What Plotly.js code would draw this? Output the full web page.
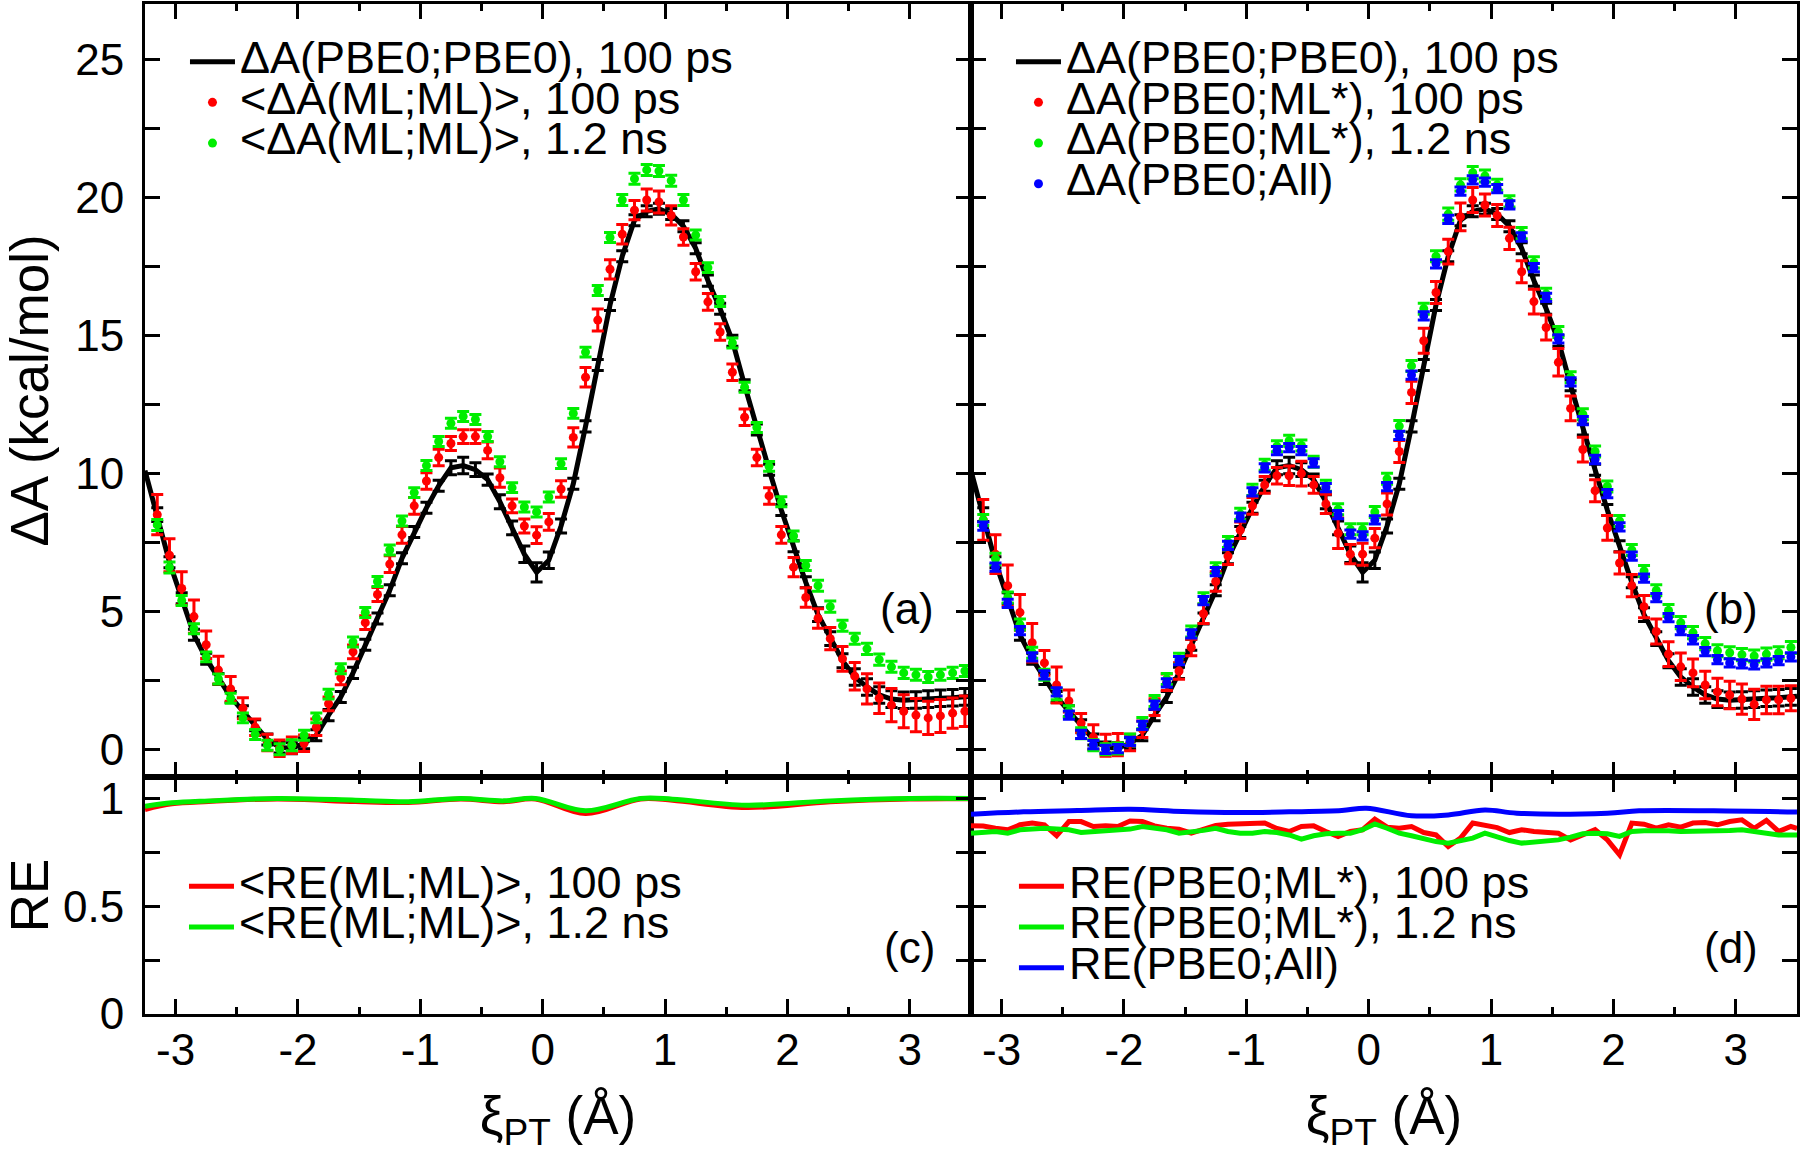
<!DOCTYPE html>
<html>
<head>
<meta charset="utf-8">
<script src="https://cdn.plot.ly/plotly-3.0.1.min.js"></script>
<style>body{margin:0;background:#fff}</style>
</head>
<body>
<div id="myDiv" style="width:1800px;height:1153px"></div>
<script>
// reaction coordinate grid of the free energy points
var xi = [-3.15, -3.05, -2.95, -2.85, -2.75, -2.65, -2.55, -2.45, -2.35, -2.25,
  -2.15, -2.05, -1.95, -1.85, -1.75, -1.65, -1.55, -1.45, -1.35, -1.25,
  -1.15, -1.05, -0.95, -0.85, -0.75, -0.65, -0.55, -0.45, -0.35, -0.25,
  -0.15, -0.05, 0.05, 0.15, 0.25, 0.35, 0.45, 0.55, 0.65, 0.75,
  0.85, 0.95, 1.05, 1.15, 1.25, 1.35, 1.45, 1.55, 1.65, 1.75,
  1.85, 1.95, 2.05, 2.15, 2.25, 2.35, 2.45, 2.55, 2.65, 2.75,
  2.85, 2.95, 3.05, 3.15, 3.25, 3.35, 3.45];

// dA(PBE0;PBE0), 100 ps  (line runs to both frame edges)
var pbeX = [-3.25].concat(xi, [3.5]);
var pbeA = [10.1,
  8.5, 6.78, 5.47, 4.15, 3.28, 2.55, 1.9, 1.38, 0.87, 0.36,
  0.07, 0.04, 0.22, 0.51, 1.24, 1.9, 2.77, 3.79, 4.74, 5.76,
  6.92, 7.87, 8.75, 9.55, 10.2, 10.28, 10.13, 9.77, 8.97, 8.02,
  7.07, 6.41, 6.85, 8.09, 9.62, 11.7, 13.92, 16.1, 17.86, 19.17,
  19.49, 19.58, 19.39, 18.95, 18.15, 16.98, 15.96, 14.8, 13.19, 11.59,
  10.13, 8.67, 7.36, 6.05, 4.88, 4.01, 3.21, 2.62, 2.26, 1.97,
  1.82, 1.78, 1.79, 1.82, 1.85, 1.87, 1.9,
  1.92];
var pbeErr = [NaN,
  0.25, 0.2, 0.2, 0.2, 0.2, 0.2, 0.2, 0.2, 0.2, 0.2,
  0.2, 0.2, 0.2, 0.2, 0.2, 0.2, 0.2, 0.2, 0.2, 0.2,
  0.2, 0.2, 0.2, 0.2, 0.25, 0.3, 0.25, 0.2, 0.25, 0.25,
  0.3, 0.35, 0.3, 0.25, 0.2, 0.2, 0.2, 0.2, 0.2, 0.2,
  0.2, 0.2, 0.2, 0.2, 0.2, 0.2, 0.2, 0.2, 0.2, 0.2,
  0.2, 0.2, 0.2, 0.2, 0.25, 0.25, 0.25, 0.3, 0.3, 0.3,
  0.3, 0.3, 0.3, 0.3, 0.3, 0.3, 0.3,
  NaN];

// panel (a): <dA(ML;ML)>
var mlA100 = [8.5, 7.03, 5.83, 4.81, 3.79, 2.87, 2.19, 1.49, 0.8, 0.25,
  0.04, 0.15, 0.22, 0.8, 1.65, 2.59, 3.53, 4.59, 5.61, 6.71,
  7.77, 8.82, 9.72, 10.57, 11.08, 11.33, 11.33, 10.83, 9.84, 8.82,
  8.09, 7.76, 8.24, 9.43, 11.3, 13.48, 15.55, 17.39, 18.66, 19.53,
  19.9, 19.83, 19.34, 18.56, 17.3, 16.21, 15.12, 13.66, 12.03, 10.57,
  9.18, 7.77, 6.6, 5.5, 4.74, 4.01, 3.28, 2.65, 2.19, 1.85,
  1.6, 1.38, 1.24, 1.14, 1.21, 1.31, 1.38];
var mlA100Err = [0.73, 0.6, 0.6, 0.6, 0.5, 0.5, 0.45, 0.38, 0.3, 0.3,
  0.3, 0.3, 0.3, 0.3, 0.25, 0.25, 0.25, 0.25, 0.25, 0.3,
  0.3, 0.3, 0.3, 0.3, 0.25, 0.25, 0.25, 0.3, 0.35, 0.25,
  0.25, 0.3, 0.3, 0.3, 0.35, 0.35, 0.4, 0.35, 0.35, 0.35,
  0.4, 0.4, 0.35, 0.3, 0.3, 0.3, 0.3, 0.3, 0.3, 0.3,
  0.3, 0.3, 0.35, 0.35, 0.35, 0.4, 0.45, 0.5, 0.55, 0.55,
  0.6, 0.6, 0.6, 0.6, 0.6, 0.55, 0.55];
var mlA12 = [8.13, 6.59, 5.39, 4.37, 3.35, 2.55, 1.85, 1.14, 0.54, 0.15,
  0.0, 0.15, 0.51, 1.14, 2.0, 2.92, 3.89, 4.96, 6.08, 7.22,
  8.27, 9.3, 10.28, 11.15, 11.81, 12.06, 11.95, 11.33, 10.42, 9.48,
  8.78, 8.6, 9.14, 10.35, 12.17, 14.39, 16.62, 18.54, 19.9, 20.67,
  20.99, 20.95, 20.6, 19.9, 18.63, 17.45, 16.22, 14.72, 13.12, 11.66,
  10.25, 8.97, 7.73, 6.66, 5.93, 5.17, 4.48, 4.01, 3.64, 3.25,
  2.99, 2.77, 2.7, 2.62, 2.7, 2.77, 2.84];
var mlA12Err = [0.2, 0.2, 0.18, 0.18, 0.18, 0.18, 0.18, 0.18, 0.18, 0.18,
  0.2, 0.2, 0.18, 0.18, 0.18, 0.18, 0.18, 0.18, 0.18, 0.18,
  0.18, 0.18, 0.18, 0.18, 0.18, 0.18, 0.18, 0.18, 0.18, 0.18,
  0.18, 0.18, 0.18, 0.18, 0.18, 0.18, 0.18, 0.18, 0.2, 0.2,
  0.2, 0.2, 0.2, 0.2, 0.18, 0.18, 0.18, 0.18, 0.18, 0.18,
  0.18, 0.18, 0.18, 0.18, 0.2, 0.2, 0.2, 0.2, 0.2, 0.2,
  0.2, 0.2, 0.2, 0.2, 0.2, 0.2, 0.2];

// panel (b): dA(PBE0;ML*) and dA(PBE0;All)
var pbeMl100 = [8.31, 7.07, 5.93, 4.96, 3.86, 3.13, 2.33, 1.75, 0.95, 0.44,
  0.15, 0.17, 0.25, 0.73, 1.53, 2.43, 2.84, 3.69, 4.91, 6.08,
  7.0, 7.94, 8.82, 9.58, 9.91, 9.91, 9.99, 9.58, 8.89, 7.83,
  7.07, 7.07, 7.65, 8.89, 10.79, 12.93, 14.8, 16.55, 18.03, 19.29,
  19.9, 19.72, 19.34, 18.51, 17.3, 16.22, 15.28, 14.02, 12.35, 10.86,
  9.37, 8.02, 6.75, 5.93, 5.17, 4.27, 3.45, 2.99, 2.77, 2.33,
  2.08, 1.97, 1.82, 1.63, 1.79, 1.79, 1.85];
var pbeMl100Err = [0.74, 0.7, 0.75, 0.65, 0.7, 0.45, 0.65, 0.4, 0.35, 0.45,
  0.4, 0.4, 0.3, 0.3, 0.3, 0.3, 0.3, 0.3, 0.35, 0.35,
  0.3, 0.3, 0.3, 0.3, 0.3, 0.35, 0.45, 0.3, 0.35, 0.55,
  0.35, 0.4, 0.35, 0.4, 0.4, 0.4, 0.45, 0.4, 0.45, 0.5,
  0.45, 0.4, 0.4, 0.4, 0.4, 0.45, 0.45, 0.5, 0.45, 0.45,
  0.4, 0.45, 0.4, 0.4, 0.4, 0.45, 0.45, 0.5, 0.5, 0.5,
  0.5, 0.5, 0.55, 0.55, 0.5, 0.5, 0.45];
var pbeMl12 = [8.31, 6.9, 5.5, 4.52, 3.5, 2.7, 2.0, 1.38, 0.58, 0.15,
  0.0, 0.03, 0.36, 0.95, 1.75, 2.55, 3.28, 4.27, 5.47, 6.56,
  7.51, 8.53, 9.4, 10.31, 10.98, 11.18, 11.01, 10.42, 9.55, 8.7,
  7.97, 7.97, 8.6, 9.8, 11.71, 13.89, 15.96, 17.86, 19.39, 20.45,
  20.89, 20.77, 20.45, 19.85, 18.7, 17.64, 16.5, 15.12, 13.48, 12.14,
  10.79, 9.52, 8.27, 7.22, 6.46, 5.76, 5.03, 4.59, 4.23, 3.83,
  3.57, 3.5, 3.43, 3.38, 3.45, 3.5, 3.69];
var pbeMl12Err = [0.2, 0.2, 0.2, 0.2, 0.2, 0.2, 0.2, 0.2, 0.2, 0.2,
  0.2, 0.2, 0.2, 0.2, 0.2, 0.2, 0.2, 0.2, 0.2, 0.2,
  0.2, 0.2, 0.2, 0.2, 0.2, 0.2, 0.2, 0.2, 0.2, 0.2,
  0.2, 0.2, 0.2, 0.2, 0.2, 0.2, 0.2, 0.2, 0.22, 0.22,
  0.22, 0.22, 0.2, 0.2, 0.2, 0.2, 0.2, 0.2, 0.2, 0.2,
  0.2, 0.2, 0.2, 0.2, 0.2, 0.2, 0.22, 0.22, 0.22, 0.22,
  0.22, 0.22, 0.22, 0.22, 0.22, 0.22, 0.22];
var pbeAll = [8.09, 6.6, 5.29, 4.3, 3.35, 2.7, 2.08, 1.24, 0.54, 0.17,
  0.0, 0.03, 0.29, 0.87, 1.6, 2.41, 3.21, 4.18, 5.39, 6.44,
  7.39, 8.41, 9.33, 10.2, 10.82, 10.93, 10.82, 10.38, 9.48, 8.5,
  7.8, 7.73, 8.31, 9.52, 11.37, 13.56, 15.7, 17.59, 19.2, 20.22,
  20.63, 20.55, 20.31, 19.72, 18.56, 17.45, 16.37, 14.87, 13.31, 11.91,
  10.5, 9.26, 8.06, 7.0, 6.2, 5.5, 4.77, 4.3, 3.97, 3.54,
  3.25, 3.13, 3.1, 3.06, 3.13, 3.21, 3.35];
var pbeAllErr = [0.15, 0.15, 0.15, 0.15, 0.15, 0.15, 0.15, 0.15, 0.15, 0.15,
  0.15, 0.15, 0.15, 0.15, 0.15, 0.15, 0.15, 0.15, 0.15, 0.15,
  0.15, 0.15, 0.15, 0.15, 0.15, 0.15, 0.15, 0.15, 0.15, 0.15,
  0.15, 0.15, 0.15, 0.15, 0.15, 0.15, 0.15, 0.15, 0.15, 0.15,
  0.15, 0.15, 0.15, 0.15, 0.15, 0.15, 0.15, 0.15, 0.15, 0.15,
  0.15, 0.15, 0.15, 0.15, 0.15, 0.15, 0.15, 0.15, 0.15, 0.15,
  0.15, 0.15, 0.15, 0.15, 0.15, 0.15, 0.15];

// panel (c): <RE(ML;ML)>
var reLx = [-3.25, -3.03, -2.73, -2.17, -1.53, -1.1, -0.67, -0.32, -0.06, 0.35, 0.8, 1.06, 1.66, 2.35, 3.0, 3.5];
var reMl100 = [0.949, 0.975, 0.986, 0.998, 0.986, 0.982, 0.998, 0.985, 0.998, 0.93, 0.998, 0.992, 0.958, 0.985, 0.998, 0.999];
var reMl12 = [0.964, 0.98, 0.989, 1.0, 0.992, 0.985, 1.0, 0.989, 1.0, 0.943, 1.0, 0.997, 0.969, 0.989, 1.0, 1.0];

// panel (d): RE(PBE0;ML*) and RE(PBE0;All)
var reRx = [-3.25, -3.15, -3.05, -2.95, -2.85, -2.75, -2.65, -2.55, -2.45, -2.35,
  -2.25, -2.15, -2.05, -1.95, -1.85, -1.75, -1.65, -1.55, -1.45, -1.35,
  -1.25, -1.15, -1.05, -0.95, -0.85, -0.75, -0.65, -0.55, -0.45, -0.35,
  -0.25, -0.15, -0.05, 0.05, 0.15, 0.25, 0.35, 0.45, 0.55, 0.65,
  0.75, 0.85, 0.95, 1.05, 1.15, 1.25, 1.35, 1.45, 1.55, 1.65,
  1.75, 1.85, 1.95, 2.05, 2.15, 2.25, 2.35, 2.45, 2.55, 2.65,
  2.75, 2.85, 2.95, 3.05, 3.15, 3.25, 3.35, 3.45, 3.5];
var rePbeMl100 = [0.873, 0.872, 0.862, 0.855, 0.878, 0.886, 0.878, 0.827, 0.893, 0.893,
  0.87, 0.873, 0.87, 0.896, 0.893, 0.873, 0.862, 0.858, 0.839, 0.855,
  0.875, 0.881, 0.882, 0.882, 0.886, 0.861, 0.847, 0.87, 0.873, 0.847,
  0.824, 0.847, 0.855, 0.904, 0.867, 0.862, 0.87, 0.842, 0.831, 0.777,
  0.816, 0.886, 0.878, 0.865, 0.842, 0.855, 0.847, 0.844, 0.839, 0.808,
  0.831, 0.855, 0.808, 0.739, 0.886, 0.881, 0.862, 0.878, 0.867, 0.886,
  0.889, 0.878, 0.893, 0.901, 0.862, 0.898, 0.847, 0.87, 0.862];
var rePbeMl12 = [0.839, 0.842, 0.847, 0.839, 0.855, 0.859, 0.862, 0.858, 0.855, 0.842,
  0.847, 0.852, 0.855, 0.858, 0.87, 0.862, 0.855, 0.839, 0.844, 0.852,
  0.862, 0.847, 0.839, 0.839, 0.847, 0.842, 0.831, 0.811, 0.827, 0.836,
  0.839, 0.839, 0.855, 0.882, 0.862, 0.839, 0.827, 0.811, 0.8, 0.793,
  0.805, 0.816, 0.839, 0.821, 0.805, 0.793, 0.799, 0.805, 0.808, 0.821,
  0.836, 0.839, 0.836, 0.824, 0.847, 0.85, 0.852, 0.85, 0.847, 0.847,
  0.847, 0.85, 0.852, 0.855, 0.847, 0.839, 0.831, 0.831, 0.831];
var reBx = [-3.25, -2.82, -2.38, -1.95, -1.52, -1.08, -0.65, -0.22, -0.02, 0.35, 0.65, 0.95, 1.21, 1.95, 2.21, 2.82, 3.5];
var rePbeAll = [0.927, 0.938, 0.944, 0.95, 0.94, 0.935, 0.938, 0.944, 0.955, 0.92, 0.924, 0.947, 0.932, 0.932, 0.943, 0.943, 0.937];

// ticks
var xTickVals = [-3, -2, -1, 0, 1, 2, 3];
var xTickText = ['-3', '-2', '-1', '0', '1', '2', '3'];
var yTickVals = [0, 5, 10, 15, 20, 25];
var yTickText = ['0', '5', '10', '15', '20', '25'];
var reTickVals = [0, 0.5, 1];
var reTickText = ['0', '0.5', '1'];

var RED = '#ff0000', GREEN = '#00ee00', BLUE = '#0000ff';

// legend rows are packed tight: small legend font, big text via span
function big(s) {
  return '<span style="font-size:45px">' + s + '</span>';
}

function pts(y, err, color, name, xa, ya, leg) {
  return {
    x: xi, y: y, type: 'scatter', mode: 'markers', name: big(name),
    marker: {color: color, size: 9},
    error_y: {type: 'data', array: err, color: color, thickness: 3, width: 6},
    xaxis: xa, yaxis: ya, legend: leg
  };
}

function pbeLine(xa, ya, leg) {
  return {
    x: pbeX, y: pbeA, type: 'scatter', mode: 'lines', name: big('ΔA(PBE0;PBE0), 100 ps'),
    line: {color: 'black', width: 5},
    error_y: {type: 'data', array: pbeErr, color: 'black', thickness: 3, width: 6},
    xaxis: xa, yaxis: ya, legend: leg
  };
}

function reLine(x, y, color, name, xa, ya, leg, smooth) {
  return {
    x: x, y: y, type: 'scatter', mode: 'lines', name: big(name),
    line: {color: color, width: 5, shape: smooth ? 'spline' : 'linear'},
    xaxis: xa, yaxis: ya, legend: leg
  };
}

var data = [
  pbeLine('x', 'y', 'legend'),
  pts(mlA100, mlA100Err, RED, '&lt;ΔA(ML;ML)&gt;, 100 ps', 'x', 'y', 'legend'),
  pts(mlA12, mlA12Err, GREEN, '&lt;ΔA(ML;ML)&gt;, 1.2 ns', 'x', 'y', 'legend'),

  pbeLine('x2', 'y2', 'legend2'),
  pts(pbeMl100, pbeMl100Err, RED, 'ΔA(PBE0;ML*), 100 ps', 'x2', 'y2', 'legend2'),
  pts(pbeMl12, pbeMl12Err, GREEN, 'ΔA(PBE0;ML*), 1.2 ns', 'x2', 'y2', 'legend2'),
  pts(pbeAll, pbeAllErr, BLUE, 'ΔA(PBE0;All)', 'x2', 'y2', 'legend2'),

  reLine(reLx, reMl100, RED, '&lt;RE(ML;ML)&gt;, 100 ps', 'x3', 'y3', 'legend3', true),
  reLine(reLx, reMl12, GREEN, '&lt;RE(ML;ML)&gt;, 1.2 ns', 'x3', 'y3', 'legend3', true),

  reLine(reRx, rePbeMl100, RED, 'RE(PBE0;ML*), 100 ps', 'x4', 'y4', 'legend4', false),
  reLine(reRx, rePbeMl12, GREEN, 'RE(PBE0;ML*), 1.2 ns', 'x4', 'y4', 'legend4', false),
  reLine(reBx, rePbeAll, BLUE, 'RE(PBE0;All)', 'x4', 'y4', 'legend4', true)
];

function xAxis(domain, anchor, labels, title) {
  return {
    domain: domain, anchor: anchor, range: [-3.25, 3.5],
    tickmode: 'array', tickvals: xTickVals, ticktext: xTickText, showticklabels: labels,
    ticks: 'inside', ticklen: 15, tickwidth: 3, tickcolor: 'black', ticklabelstandoff: -5,
    minor: {tickmode: 'linear', tick0: 0, dtick: 0.5, ticks: 'inside', ticklen: 7, tickwidth: 3, tickcolor: 'black'},
    showline: true, linewidth: 3, linecolor: 'black', mirror: 'allticks',
    showgrid: false, zeroline: false,
    title: title ? {text: title, standoff: 30} : undefined
  };
}

function yAxis(domain, anchor, range, vals, text, minorStep, labels, title, standoff) {
  return {
    domain: domain, anchor: anchor, range: range,
    tickmode: 'array', tickvals: vals, ticktext: text, showticklabels: labels,
    ticks: 'inside', ticklen: 15, tickwidth: 3, tickcolor: 'black', ticklabelstandoff: 9,
    minor: {tickmode: 'linear', tick0: 0, dtick: minorStep, ticks: 'inside', ticklen: 15, tickwidth: 3, tickcolor: 'black'},
    showline: true, linewidth: 3, linecolor: 'black', mirror: 'allticks',
    showgrid: false, zeroline: false,
    title: title ? {text: title, standoff: standoff} : undefined
  };
}

function legendAt(x, y) {
  return {x: x, y: y, xanchor: 'left', yanchor: 'top', bgcolor: 'rgba(0,0,0,0)',
    font: {size: 29, color: 'black'}, itemwidth: 45, tracegroupgap: 0};
}

function panelTag(t, x, y) {
  return {text: t, x: x, y: y, xref: 'paper', yref: 'paper', showarrow: false,
    xanchor: 'center', yanchor: 'middle', font: {size: 44, color: 'black'}};
}

var topDom = [0.2347, 1], botDom = [0, 0.2347];

var layout = {
  width: 1800, height: 1153,
  margin: {l: 145, r: 3, t: 4, b: 139},
  paper_bgcolor: 'white', plot_bgcolor: 'white',
  font: {family: 'Liberation Sans, Arial, sans-serif', size: 44, color: 'black'},
  showlegend: true,
  xaxis: xAxis([0, 0.5], 'y', false),
  yaxis: yAxis(topDom, 'x', [-1, 27], yTickVals, yTickText, 2.5, true, 'ΔA (kcal/mol)', 34),
  xaxis2: xAxis([0.5, 1], 'y2', false),
  yaxis2: yAxis(topDom, 'x2', [-1, 27], yTickVals, yTickText, 2.5, false),
  xaxis3: xAxis([0, 0.5], 'y3', true, 'ξ<sub>PT</sub> (Å)'),
  yaxis3: yAxis(botDom, 'x3', [0, 1.1], reTickVals, reTickText, 0.25, true, 'RE', 28),
  xaxis4: xAxis([0.5, 1], 'y4', true, 'ξ<sub>PT</sub> (Å)'),
  yaxis4: yAxis(botDom, 'x4', [0, 1.1], reTickVals, reTickText, 0.25, false),
  legend: legendAt(0.0242, 0.968),
  legend2: legendAt(0.5242, 0.968),
  legend3: legendAt(0.0236, 0.1515),
  legend4: legendAt(0.526, 0.1515),
  annotations: [
    panelTag('(a)', 0.4613, 0.401),
    panelTag('(b)', 0.960, 0.401),
    panelTag('(c)', 0.4625, 0.0663),
    panelTag('(d)', 0.960, 0.0663)
  ]
};

Plotly.newPlot('myDiv', data, layout, {staticPlot: true});
</script>
</body>
</html>
